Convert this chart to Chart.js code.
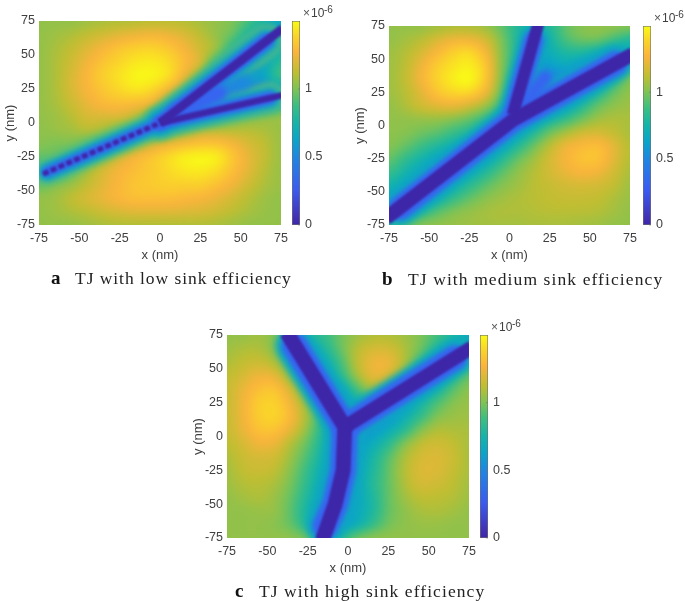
<!DOCTYPE html>
<html><head><meta charset="utf-8">
<style>
html,body{margin:0;padding:0;background:#fff;width:685px;height:601px;overflow:hidden}
canvas{position:absolute;display:block}
.cap{position:absolute;font-family:"Liberation Serif",serif;font-size:17.5px;color:#222;white-space:nowrap;line-height:20px}
.cap b{position:absolute;left:0;top:0;font-size:19px;letter-spacing:0;color:#111}
.cap span{position:absolute;top:0}
</style>
<script src="https://cdn.jsdelivr.net/npm/chart.js@4/dist/chart.umd.min.js"></script>
</head><body>
<canvas id="a"></canvas><canvas id="acb"></canvas>
<canvas id="b"></canvas><canvas id="bcb"></canvas>
<canvas id="c"></canvas><canvas id="ccb"></canvas>
<div class="cap" style="left:51px;top:268px"><b>a</b><span style="left:24px;letter-spacing:.95px">TJ with low sink efficiency</span></div>
<div class="cap" style="left:382px;top:269px"><b>b</b><span style="left:26px;letter-spacing:1.1px">TJ with medium sink efficiency</span></div>
<div class="cap" style="left:235px;top:581px"><b>c</b><span style="left:24px;letter-spacing:1.08px">TJ with high sink efficiency</span></div>
<script>
// grid coordinates (nm)
const gridX = [-75,-65,-55,-45,-35,-25,-15,-5,5,15,25,35,45,55,65,75];
const gridY = [75,65,55,45,35,25,15,5,-5,-15,-25,-35,-45,-55,-65,-75];
const axisTicks = [-75,-50,-25,0,25,50,75];
const colorbarTicks = [0,0.5,1];
const colorbarMax = 1.5;
const colorbarRange = [0,1.5];

// field values (x 1e-6), one row per gridY entry
const fieldA = [
[1.04,1.04,1.04,1.06,1.08,1.09,1.1,1.11,1.11,1.1,1.07,1.04,1.0,.9,.75,.65],
[1.04,1.06,1.09,1.13,1.17,1.21,1.24,1.26,1.24,1.19,1.12,1.04,.95,.75,.6,.6],
[1.04,1.08,1.13,1.2,1.27,1.33,1.37,1.38,1.34,1.26,1.16,1.05,.8,.62,.58,.7],
[1.04,1.09,1.16,1.25,1.33,1.39,1.44,1.45,1.41,1.3,1.17,.85,.62,.55,.65,.82],
[1.04,1.09,1.18,1.28,1.37,1.43,1.48,1.48,1.42,1.24,1.0,.6,.5,.5,.67,.88],
[1.04,1.09,1.18,1.27,1.34,1.4,1.44,1.4,1.27,1.05,.65,.48,.4,.42,.5,.65],
[1.04,1.08,1.15,1.23,1.29,1.31,1.3,1.24,1.0,.6,.42,.36,.35,.42,.55,.75],
[1.04,1.06,1.11,1.18,1.19,1.19,1.12,.95,.6,.42,.7,.8,.9,.95,1.0,1.03],
[1.03,1.05,1.07,1.11,1.07,1.0,.95,.8,.85,.95,1.08,1.1,1.1,1.1,1.08,1.05],
[1.02,1.0,1.0,.95,.9,.95,1.05,1.14,1.22,1.28,1.32,1.32,1.26,1.18,1.12,1.05],
[.95,.95,.9,.95,1.05,1.17,1.26,1.33,1.4,1.46,1.48,1.46,1.34,1.22,1.13,1.05],
[.85,.8,.95,1.07,1.18,1.26,1.31,1.35,1.4,1.44,1.45,1.41,1.31,1.21,1.11,1.05],
[.95,1.0,1.05,1.13,1.21,1.28,1.33,1.35,1.37,1.37,1.37,1.32,1.25,1.16,1.09,1.05],
[1.04,1.06,1.12,1.18,1.23,1.28,1.31,1.31,1.31,1.29,1.27,1.23,1.17,1.11,1.06,1.04],
[1.04,1.06,1.09,1.12,1.16,1.19,1.21,1.21,1.21,1.2,1.19,1.16,1.12,1.08,1.05,1.04],
[1.04,1.04,1.04,1.06,1.08,1.09,1.09,1.09,1.09,1.09,1.09,1.08,1.06,1.04,1.04,1.04]];
const fieldB = [
[1.04,1.04,1.04,1.06,1.08,1.08,1.05,.95,.8,.75,.8,.95,1.02,1.04,1.04,1.02],
[1.04,1.07,1.11,1.18,1.24,1.24,1.17,1.0,.8,.7,.75,.9,.97,.97,.88,.8],
[1.06,1.1,1.18,1.28,1.37,1.4,1.27,1.02,.8,.65,.7,.78,.78,.7,.62,.7],
[1.06,1.12,1.24,1.36,1.43,1.46,1.34,1.02,.78,.6,.6,.66,.58,.55,.65,.85],
[1.06,1.13,1.26,1.38,1.46,1.49,1.34,1.0,.72,.55,.5,.48,.5,.6,.8,1.0],
[1.06,1.11,1.21,1.33,1.39,1.39,1.25,.95,.68,.55,.45,.5,.62,.78,.95,1.04],
[1.04,1.09,1.16,1.21,1.23,1.17,1.06,.85,.65,.55,.55,.65,.8,.95,1.03,1.06],
[1.04,1.04,1.05,1.05,1.02,.96,.85,.7,.6,.65,.75,.85,.97,1.06,1.09,1.08],
[1.03,1.02,.98,.94,.87,.8,.7,.6,.65,.8,.96,1.07,1.15,1.17,1.13,1.08],
[1.02,.96,.88,.8,.72,.65,.6,.65,.8,.96,1.11,1.23,1.28,1.3,1.21,1.1],
[.96,.85,.75,.65,.6,.6,.65,.8,.95,1.06,1.17,1.26,1.32,1.32,1.21,1.1],
[.87,.75,.65,.6,.62,.68,.8,.93,1.03,1.1,1.17,1.23,1.27,1.25,1.17,1.08],
[.75,.65,.6,.62,.7,.82,.93,1.01,1.06,1.11,1.14,1.17,1.18,1.17,1.13,1.06],
[.65,.6,.62,.72,.85,.95,1.02,1.06,1.09,1.11,1.13,1.14,1.14,1.13,1.09,1.05],
[.65,.68,.8,.92,1.0,1.04,1.07,1.09,1.09,1.1,1.11,1.11,1.11,1.1,1.07,1.04],
[.8,.92,1.02,1.04,1.05,1.06,1.07,1.07,1.07,1.08,1.08,1.08,1.07,1.06,1.04,1.04]];
const fieldC = [
[1.04,1.04,1.06,1.0,.85,.8,.85,.97,1.05,1.09,1.09,1.06,1.0,.9,.78,.68],
[1.06,1.09,1.09,1.0,.8,.7,.78,.95,1.1,1.17,1.17,1.09,.97,.78,.65,.68],
[1.09,1.13,1.15,1.08,.88,.68,.7,.88,1.11,1.23,1.23,1.09,.85,.65,.65,.8],
[1.12,1.18,1.24,1.21,1.0,.75,.65,.8,1.05,1.21,1.17,.97,.7,.65,.78,.95],
[1.14,1.23,1.31,1.32,1.15,.88,.65,.65,.88,1.06,.95,.7,.62,.75,.92,1.03],
[1.14,1.25,1.36,1.37,1.24,1.0,.75,.6,.7,.82,.65,.62,.75,.9,1.01,1.05],
[1.14,1.25,1.36,1.38,1.27,1.06,.8,.6,.55,.55,.58,.7,.85,1.0,1.05,1.06],
[1.14,1.23,1.32,1.32,1.21,1.02,.78,.6,.55,.58,.68,.82,1.0,1.09,1.09,1.08],
[1.12,1.18,1.25,1.23,1.1,.95,.75,.6,.6,.68,.82,1.0,1.12,1.16,1.13,1.08],
[1.09,1.15,1.18,1.16,1.05,.9,.72,.6,.62,.75,.92,1.08,1.17,1.19,1.15,1.08],
[1.07,1.13,1.15,1.12,1.01,.85,.68,.6,.65,.78,.95,1.1,1.19,1.19,1.14,1.08],
[1.06,1.1,1.11,1.08,.98,.82,.65,.6,.65,.8,.95,1.09,1.17,1.16,1.12,1.07],
[1.04,1.07,1.09,1.05,.95,.78,.62,.6,.65,.78,.95,1.06,1.12,1.12,1.1,1.06],
[1.04,1.04,1.05,1.04,.93,.75,.6,.6,.66,.78,.95,1.03,1.08,1.09,1.07,1.04],
[1.04,1.04,1.04,1.02,.95,.78,.62,.6,.7,.85,.98,1.03,1.05,1.05,1.04,1.04],
[1.04,1.04,1.04,1.04,1.03,.97,.82,.82,.97,1.03,1.04,1.04,1.04,1.04,1.04,1.04]];

// sink paths (nm)
const sinkA1 = [{x:-72.5,y:-37.5},{x:0,y:0}];
const sinkA2 = [{x:0,y:0},{x:76,y:69.5}];
const sinkA3 = [{x:0,y:0},{x:76,y:20.5}];
const sinkB1 = [{x:-77,y:-70},{x:2,y:4},{x:77,y:54}];
const sinkB2 = [{x:2,y:8},{x:18,y:77}];
const sinkC1 = [{x:-38,y:77},{x:-2,y:7},{x:-3,y:-25},{x:-8,y:-50},{x:-16,y:-77}];
const sinkC2 = [{x:-2,y:7},{x:77,y:66}];
// low-field surroundings of each sink (nm)
const glowA1 = [{x:-70,y:-36},{x:0,y:0}];
const glowA2 = [{x:0,y:0},{x:66,y:60.5}];
const glowA3 = [{x:0,y:0},{x:68,y:18.5}];
const glowB1 = [{x:-68,y:-62},{x:2,y:4},{x:66,y:47}];
const glowB2 = [{x:2,y:8},{x:15,y:64}];
const glowC1 = [{x:-33,y:67},{x:-2,y:7},{x:-3,y:-25},{x:-8,y:-50},{x:-14,y:-66}];
const glowC2 = [{x:-2,y:7},{x:66,y:58}];
// low-field wedges between branches (nm)
const wedgeA1 = [{x:10,y:8},{x:36,y:22}];
const wedgeA2 = [{x:30,y:20},{x:52,y:30}];
const wedgeA3 = [{x:50,y:30},{x:60,y:35}];
const wedgeB1 = [{x:10,y:18},{x:22,y:36}];

const parulaStops = [
 [0,62,38,168],[0.04,65,50,180],[0.173,60,90,240],[0.333,30,135,225],[0.42,10,165,200],
 [0.5,20,180,170],[0.587,60,190,130],[0.667,125,195,85],[0.747,190,190,50],[0.847,250,180,60],
 [0.933,250,215,40],[1,249,251,21]];

function parula(t){
  t=Math.max(0,Math.min(1,t));
  for(let i=1;i<parulaStops.length;i++){
    const a=parulaStops[i-1],b=parulaStops[i];
    if(t<=b[0]){const f=(t-a[0])/(b[0]-a[0]);return [a[1]+f*(b[1]-a[1]),a[2]+f*(b[2]-a[2]),a[3]+f*(b[3]-a[3])];}
  }
  return parulaStops[parulaStops.length-1].slice(1);
}
const INK='#404040', FONT='"Liberation Sans", Arial, sans-serif';
const DARK='rgb(62,38,168)', BLUE='rgb(55,100,240)', SKY='rgb(30,135,225)', TEAL='rgb(15,165,195)', GREEN='rgb(90,190,120)';

function cubic(p0,p1,p2,p3,t){
  return p1+0.5*t*(p2-p0+t*(2*p0-5*p1+4*p2-p3+t*(3*(p1-p2)+p3-p0)));
}
const heatPlugin={
  id:'heat',
  beforeDatasetsDraw(chart){
    const ds=chart.data.datasets[0], a=chart.chartArea, X=chart.scales.x, Y=chart.scales.y;
    const rows=ds.field, nx=gridX.length, ny=gridY.length;
    const w=Math.round(a.right-a.left), h=Math.round(a.bottom-a.top);
    const off=document.createElement('canvas');off.width=w;off.height=h;
    const oc=off.getContext('2d'),im=oc.createImageData(w,h);
    const at=(r,c)=>rows[Math.max(0,Math.min(ny-1,r))][Math.max(0,Math.min(nx-1,c))];
    for(let py=0;py<h;py++){
      const vy=Y.getValueForPixel(a.top+py+0.5);
      const fy=(gridY[0]-vy)/(gridY[0]-gridY[1]);
      const r=Math.floor(fy),ty=fy-r;
      for(let px=0;px<w;px++){
        const vx=X.getValueForPixel(a.left+px+0.5);
        const fx=(vx-gridX[0])/(gridX[1]-gridX[0]);
        const c=Math.floor(fx),tx=fx-c;
        const col=[];
        for(let k=-1;k<=2;k++) col.push(cubic(at(r+k,c-1),at(r+k,c),at(r+k,c+1),at(r+k,c+2),tx));
        const v=cubic(col[0],col[1],col[2],col[3],ty);
        const rgb=parula(v/colorbarMax),i=(py*w+px)*4;
        im.data[i]=rgb[0];im.data[i+1]=rgb[1];im.data[i+2]=rgb[2];im.data[i+3]=255;
      }
    }
    oc.putImageData(im,0,0);
    const c=chart.ctx;
    c.save();
    c.beginPath();c.rect(a.left,a.top,a.right-a.left,a.bottom-a.top);c.clip();
    c.drawImage(off,a.left,a.top,a.right-a.left,a.bottom-a.top);
    c.filter='blur(3px)';
    c.drawImage(off,a.left,a.top,a.right-a.left,a.bottom-a.top);
    c.restore();
  },
  beforeDatasetDraw(chart,args){
    const b=chart.data.datasets[args.index].blur;
    if(b){chart.ctx.save();chart.ctx.filter='blur('+b+'px)';}
  },
  afterDatasetDraw(chart,args){
    if(chart.data.datasets[args.index].blur) chart.ctx.restore();
  }
};
function cells(field){
  const out=[];
  gridY.forEach((y,r)=>gridX.forEach((x,c)=>out.push({x,y,v:field[r][c]})));
  return out;
}
function sinkLine(data,width,extra){
  return Object.assign({type:'line',data,borderColor:DARK,borderWidth:width,pointRadius:0,blur:0.8,
    borderCapStyle:'butt',borderJoinStyle:'round',tension:0,fill:false},extra||{});
}
function glow(data,width,color,blur){
  return sinkLine(data,width,{borderColor:color,blur,borderCapStyle:'round'});
}
function panel(id,box,field,lines){
  const cv=document.getElementById(id);
  const W=box.R-box.L+56,H=box.B-box.T+70;
  cv.width=W;cv.height=H;cv.style.left=(box.L-40)+'px';cv.style.top=(box.T-20)+'px';
  cv.style.width=W+'px';cv.style.height=H+'px';
  const tick={color:INK,font:{family:FONT,size:12.5},padding:3,maxRotation:0,autoSkip:false,
    callback:v=>axisTicks.includes(v)?String(v):''};
  new Chart(cv,{
    type:'scatter',
    data:{datasets:[{label:'field',field,data:cells(field),pointRadius:0,pointHoverRadius:0,showLine:false},...lines]},
    options:{responsive:false,animation:false,
      layout:{padding:{left:0,right:16,top:20,bottom:12}},
      plugins:{legend:{display:false},tooltip:{enabled:false}},
      scales:{
        x:{type:'linear',min:-75,max:75,afterBuildTicks:s=>{s.ticks=axisTicks.map(value=>({value}));},
           afterFit:s=>{s.height=38;},
           grid:{display:false,drawTicks:false},border:{display:false},ticks:Object.assign({},tick,{padding:6}),
           title:{display:true,text:'x (nm)',color:INK,font:{family:FONT,size:13},padding:{top:4,bottom:0}}},
        y:{type:'linear',min:-75,max:75,afterBuildTicks:s=>{s.ticks=axisTicks.map(value=>({value}));},
           afterFit:s=>{s.width=40;},
           grid:{display:false,drawTicks:false},border:{display:false},ticks:Object.assign({},tick,{padding:4}),
           title:{display:true,text:'y (nm)',color:INK,font:{family:FONT,size:13},padding:{top:4,bottom:0}}}
      }},
    plugins:[heatPlugin]
  });
}
const cbPlugin={
  id:'cbDecor',
  afterDraw(chart){
    const a=chart.chartArea,c=chart.ctx,Y=chart.scales.y;
    c.save();
    c.strokeStyle='#707070';c.lineWidth=0.6;
    c.strokeRect(a.left+.3,a.top+.3,a.right-a.left-.6,a.bottom-a.top-.6);
    colorbarTicks.forEach(v=>{const p=Y.getPixelForValue(v);c.beginPath();c.moveTo(a.right-2,p);c.lineTo(a.right,p);c.stroke();});
    c.textBaseline='alphabetic';
    c.font='12px '+FONT;c.fillStyle='#555';c.fillText('\u00d7',a.right+3,a.top-4);
    c.fillStyle=INK;c.fillText('10',a.right+11,a.top-4);
    c.font='10px '+FONT;c.fillText('-6',a.right+24,a.top-8);
    c.restore();
  }
};
function colorbar(id,box){
  const cv=document.getElementById(id);
  const w=box.R-box.L,W=Math.min(w+34,685-box.L),H=box.B-box.T+40;
  cv.width=W;cv.height=H;cv.style.left=box.L+'px';cv.style.top=(box.T-20)+'px';
  cv.style.width=W+'px';cv.style.height=H+'px';
  new Chart(cv,{
    type:'bar',
    data:{labels:[''],datasets:[{label:'colour scale',data:[colorbarRange],barPercentage:1,categoryPercentage:1,
      backgroundColor(ctx){
        const a=ctx.chart.chartArea;if(!a)return '#888';
        const g=ctx.chart.ctx.createLinearGradient(0,a.bottom,0,a.top);
        parulaStops.forEach(s=>g.addColorStop(s[0],`rgb(${s[1]},${s[2]},${s[3]})`));
        return g;
      }}]},
    options:{responsive:false,animation:false,
      layout:{padding:{left:0,right:0,top:20,bottom:20}},
      plugins:{legend:{display:false},tooltip:{enabled:false}},
      scales:{
        x:{display:false},
        y:{position:'right',min:0,max:colorbarMax,afterBuildTicks:s=>{s.ticks=colorbarTicks.map(value=>({value}));},
           afterFit:s=>{s.width=W-w;},
           grid:{display:false,drawTicks:false},border:{display:false},
           ticks:{color:INK,font:{family:FONT,size:12.5},padding:5,callback:v=>String(v)}}
      }},
    plugins:[cbPlugin]
  });
}
panel('a',{L:39,R:281,T:21,B:225},fieldA,[
  sinkLine(sinkA1,5,{borderDash:[6,2.5],blur:1}),
  sinkLine(sinkA2,9),
  sinkLine(sinkA3,6.5),
  glow(wedgeA1,17,BLUE,3),glow(wedgeA2,15,SKY,4),glow(wedgeA3,11,TEAL,4),
  glow(glowA1,10,BLUE,2),glow(glowA2,15,BLUE,2),glow(glowA3,13,BLUE,2),
  glow(glowA1,19,TEAL,2.5),glow(glowA2,25,TEAL,3),glow(glowA3,23,TEAL,3),
  glow(glowA1,27,GREEN,3),glow(glowA2,33,GREEN,3),glow(glowA3,31,GREEN,3)]);
colorbar('acb',{L:292,R:300,T:21,B:225});
panel('b',{L:389,R:630,T:26,B:225},fieldB,[
  sinkLine(sinkB1,14),sinkLine(sinkB2,12),
  glow(wedgeB1,14,BLUE,3),
  glow(glowB1,24,BLUE,2),glow(glowB2,20,BLUE,2),
  glow(glowB1,34,TEAL,3),glow(glowB2,29,TEAL,3)]);
colorbar('bcb',{L:643,R:651,T:26,B:225});
panel('c',{L:227,R:469,T:335,B:538},fieldC,[
  sinkLine(sinkC1,15),sinkLine(sinkC2,14),
  glow(glowC1,26,BLUE,2),glow(glowC2,25,BLUE,2),
  glow(glowC1,38,TEAL,3),glow(glowC2,35,TEAL,3)]);
colorbar('ccb',{L:480,R:488,T:335,B:538});
</script>
</body></html>
